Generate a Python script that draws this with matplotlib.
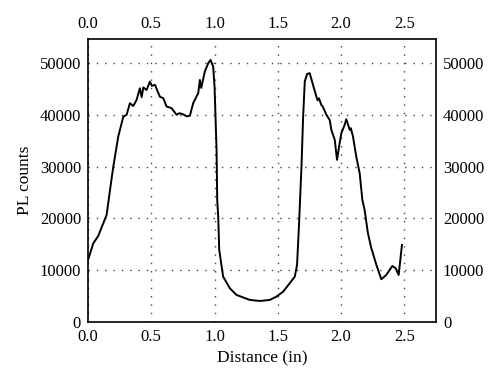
import matplotlib
matplotlib.use("Agg")
import matplotlib.pyplot as plt

# PL intensity profile along the sample
distance = [0.0, 0.042, 0.081, 0.147, 0.174, 0.2, 0.239, 0.279, 0.305, 0.331,
            0.357, 0.384, 0.41, 0.424, 0.437, 0.463, 0.489, 0.505, 0.529, 0.568,
            0.595, 0.621, 0.66, 0.70, 0.72, 0.74, 0.76, 0.779, 0.805, 0.831,
            0.871, 0.884, 0.895, 0.923, 0.950, 0.968, 0.989, 1.0, 1.016, 1.021,
            1.029, 1.037, 1.068, 1.121, 1.174, 1.279, 1.358, 1.437, 1.489, 1.542,
            1.594, 1.634, 1.652, 1.668, 1.679, 1.687, 1.70, 1.713, 1.731, 1.752,
            1.778, 1.805, 1.815, 1.825, 1.844, 1.855, 1.884, 1.910, 1.923, 1.95,
            1.968, 1.984, 2.002, 2.028, 2.041, 2.068, 2.077, 2.094, 2.12, 2.147,
            2.168, 2.186, 2.212, 2.239, 2.279, 2.318, 2.357, 2.405, 2.431, 2.455,
            2.481]
pl_counts = [11900, 15160, 16580, 20640, 25470, 30000, 35800, 39650, 40000, 42240,
             41700, 42880, 45140, 43400, 45300, 44800, 46420, 45600, 45800, 43500,
             43200, 41600, 41300, 40000, 40300, 40200, 40000, 39700, 39800, 42240,
             44180, 46750, 45200, 48360, 49980, 50620, 49320, 45450, 33200, 23540,
             20300, 13870, 8700, 6460, 5160, 4200, 4000, 4200, 4840, 5800,
             7430, 8700, 10970, 19030, 25470, 30000, 39650, 46420, 47900, 48050,
             45800, 43500, 42800, 43200, 41900, 41600, 40000, 39000, 37100, 35150,
             31280, 33850, 36440, 38050, 39150, 37100, 37400, 35800, 31900, 28700,
             23540, 21600, 17100, 14200, 10970, 8200, 9030, 10770, 10330, 9030,
             14840]

x_ticks = [0.0, 0.5, 1.0, 1.5, 2.0, 2.5]
y_ticks = [0, 10000, 20000, 30000, 40000, 50000]

plt.rcParams['font.family'] = ['Liberation Serif', 'DejaVu Serif']

fig = plt.figure(figsize=(5, 3.88), dpi=100)
ax = fig.add_axes([0.176, 0.171, 0.696, 0.729])
ax.plot(distance, pl_counts, color='black', linewidth=1.4)

ax.set_xlim(0, 2.75)
ax.set_ylim(0, 54700)
ax.set_xticks(x_ticks)
ax.set_xticklabels([f'{t:.1f}' for t in x_ticks])
ax.set_yticks(y_ticks)
ax.set_yticklabels([str(t) for t in y_ticks])
ax.grid(True, color='#444444', linestyle=(0, (1, 5)), linewidth=1.0)

ax.tick_params(axis='both', which='both', length=0, labelsize=12, pad=5,
               top=True, right=True, labeltop=True, labelright=True)
for s in ax.spines.values():
    s.set_linewidth(1.2)

ax.set_xlabel('Distance (in)', fontsize=12.5, labelpad=4)
ax.set_ylabel('PL counts', fontsize=12.5, labelpad=5)

fig.savefig('out.png', dpi=100)
